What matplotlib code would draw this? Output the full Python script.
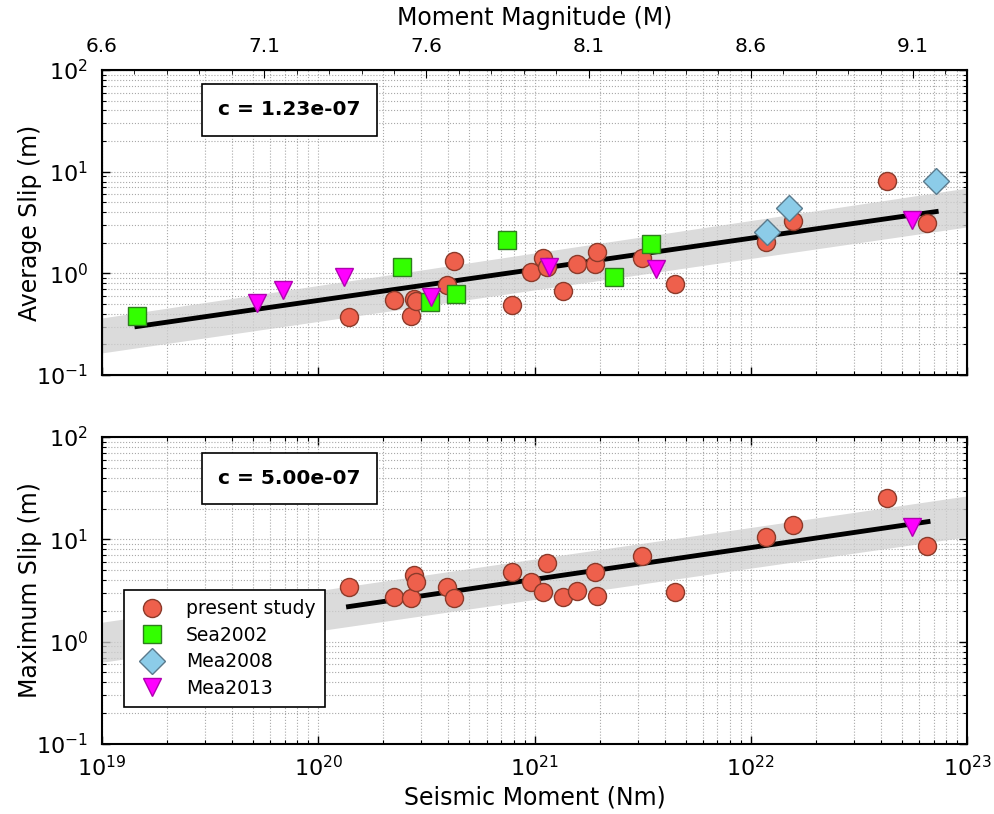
import numpy as np
import matplotlib
matplotlib.use("Agg")
import matplotlib.pyplot as plt
from matplotlib.ticker import FixedLocator, NullFormatter

# ---------------- data ----------------
ps_moment = [1.38e20, 2.25e20, 2.68e20, 2.76e20, 2.82e20, 3.93e20, 4.23e20, 7.9e20,
             9.6e20, 1.10e21, 1.14e21, 1.36e21, 1.58e21, 1.91e21, 1.95e21, 3.15e21,
             4.48e21, 1.18e22, 1.57e22, 4.27e22, 6.5e22]
ps_avg = [0.37, 0.55, 0.38, 0.56, 0.53, 0.77, 1.33, 0.49, 1.03, 1.41, 1.16, 0.67,
          1.24, 1.24, 1.62, 1.41, 0.79, 2.04, 3.27, 8.1, 3.13]
ps_max = [3.46, 2.71, 2.65, 4.53, 3.87, 3.46, 2.65, 4.84, 3.87, 3.03, 5.93, 2.71,
          3.10, 4.84, 2.77, 6.94, 3.03, 10.6, 13.9, 25.5, 8.68]

sea_moment = [1.45e19, 2.43e20, 3.27e20, 4.32e20, 7.43e20, 2.34e21, 3.47e21]
sea_avg = [0.38, 1.16, 0.52, 0.63, 2.13, 0.92, 1.95]

m08_moment = [1.19e22, 1.51e22, 7.19e22]
m08_avg = [2.55, 4.40, 8.1]

m13_moment = [5.2e19, 6.86e19, 1.31e20, 3.31e20, 1.17e21, 3.66e21, 5.57e22]
m13_avg = [0.51, 0.69, 0.92, 0.59, 1.16, 1.10, 3.35]
m13_max_moment = [5.57e22]
m13_max = [13.3]

fit_avg_x = [1.45e19, 7.2e22]
fit_avg_y = [0.30, 4.05]
fit_max_x = [1.38e20, 6.6e22]
fit_max_y = [2.2, 14.9]

band_x = [1e19, 1e23]
band_avg_lo = [0.165, 2.86]
band_avg_hi = [0.364, 6.9]
band_max_lo = [0.63, 10.6]
band_max_hi = [1.55, 26.6]

c_labels = ["c = 1.23e-07", "c = 5.00e-07"]
mag_ticks = [6.6, 7.1, 7.6, 8.1, 8.6, 9.1]
series_names = ["present study", "Sea2002", "Mea2008", "Mea2013"]

# ---------------- style ----------------
plt.rcParams['font.family'] = ['DejaVu Sans']
plt.rcParams['xtick.direction'] = 'in'
plt.rcParams['ytick.direction'] = 'in'

fig = plt.figure(figsize=(9.95, 8.14), dpi=100)
L, R = 0.1025, 0.9719
ax1 = fig.add_axes([L, 0.5393, R - L, 0.914 - 0.5393])
ax2 = fig.add_axes([L, 0.0860, R - L, 0.4631 - 0.0860])

red = '#EE604C'; red_e = '#8B3A2A'
green = '#33FF00'; green_e = '#2E7D1E'
blue = '#8CCCE8'; blue_e = '#5A7A8C'
mag = '#FF00FF'; mag_e = '#B000B0'
ms = 13

def grid_style(ax):
    ax.set_xscale('log'); ax.set_yscale('log')
    ax.set_xlim(1e19, 1e23); ax.set_ylim(0.1, 100)
    ax.grid(True, which='both', linestyle=':', color='#a8a8a8', linewidth=0.8)
    ax.tick_params(which='both', top=True, right=True, labelsize=16)
    ax.tick_params(which='major', length=6, width=1)
    ax.tick_params(which='minor', length=3, width=0.8)
    ax.tick_params(axis='y', which='both', pad=10)
    ax.tick_params(axis='x', which='both', pad=8)
    for s in ax.spines.values():
        s.set_linewidth(1.5)
    ax.set_axisbelow(True)

for ax in (ax1, ax2):
    grid_style(ax)

# top panel
ax1.fill_between(band_x, band_avg_lo, band_avg_hi, color='#cfcfcf', alpha=0.75, lw=0, zorder=1)
ax1.plot(fit_avg_x, fit_avg_y, color='k', lw=3.5, zorder=2)
ax1.plot(ps_moment, ps_avg, 'o', ms=ms, mfc=red, mec=red_e, mew=1, zorder=3)
ax1.plot(sea_moment, sea_avg, 's', ms=ms, mfc=green, mec=green_e, mew=1, zorder=3)
ax1.plot(m08_moment, m08_avg, 'D', ms=ms, mfc=blue, mec=blue_e, mew=1, zorder=3)
ax1.plot(m13_moment, m13_avg, 'v', ms=ms, mfc=mag, mec=mag_e, mew=1, zorder=3)
ax1.set_ylabel('Average Slip (m)', fontsize=17, labelpad=-4)
ax1.tick_params(axis='x', which='both', labelbottom=False, top=False)

# top magnitude axis
axm = ax1.twiny()
axm.set_xscale('log'); axm.set_xlim(1e19, 1e23)
axm.xaxis.set_major_locator(FixedLocator([10 ** (1.5 * m + 9.1) for m in mag_ticks]))
axm.set_xticklabels([f"{m:.1f}" for m in mag_ticks])
minor_m = np.arange(6.7, 9.25, 0.1)
axm.xaxis.set_minor_locator(FixedLocator([10 ** (1.5 * m + 9.1) for m in minor_m]))
axm.xaxis.set_minor_formatter(NullFormatter())
axm.tick_params(which='both', direction='in', labelsize=14.5, pad=10)
axm.tick_params(which='major', length=6); axm.tick_params(which='minor', length=3)
axm.set_xlabel('Moment Magnitude (M)', fontsize=17, labelpad=9)

ax1.text(0.217, 0.869, c_labels[0], transform=ax1.transAxes, ha='center', va='center',
         fontsize=14.5, fontweight='bold',
         bbox=dict(boxstyle='square,pad=0.8', fc='white', ec='k', lw=1.2), zorder=5)

# bottom panel
ax2.fill_between(band_x, band_max_lo, band_max_hi, color='#cfcfcf', alpha=0.75, lw=0, zorder=1)
ax2.plot(fit_max_x, fit_max_y, color='k', lw=3.5, zorder=2)
h1, = ax2.plot(ps_moment, ps_max, 'o', ms=ms, mfc=red, mec=red_e, mew=1, zorder=3)
h4, = ax2.plot(m13_max_moment, m13_max, 'v', ms=ms, mfc=mag, mec=mag_e, mew=1, zorder=3)
h2, = ax2.plot([], [], 's', ms=ms, mfc=green, mec=green_e, mew=1)
h3, = ax2.plot([], [], 'D', ms=ms, mfc=blue, mec=blue_e, mew=1)
ax2.set_ylabel('Maximum Slip (m)', fontsize=17, labelpad=-4)
ax2.set_xlabel('Seismic Moment (Nm)', fontsize=17, labelpad=4)
ax2.text(0.217, 0.866, c_labels[1], transform=ax2.transAxes, ha='center', va='center',
         fontsize=14.5, fontweight='bold',
         bbox=dict(boxstyle='square,pad=0.8', fc='white', ec='k', lw=1.2), zorder=5)
leg = ax2.legend([h1, h2, h3, h4], series_names, loc='lower left',
                 bbox_to_anchor=(0.015, 0.09), numpoints=1, fontsize=13.5,
                 fancybox=False, framealpha=1, edgecolor='k', borderpad=0.5,
                 handletextpad=0.8, labelspacing=0.4)
leg.get_frame().set_linewidth(1.2)
leg.set_zorder(6)

fig.savefig('out.png', dpi=100)
